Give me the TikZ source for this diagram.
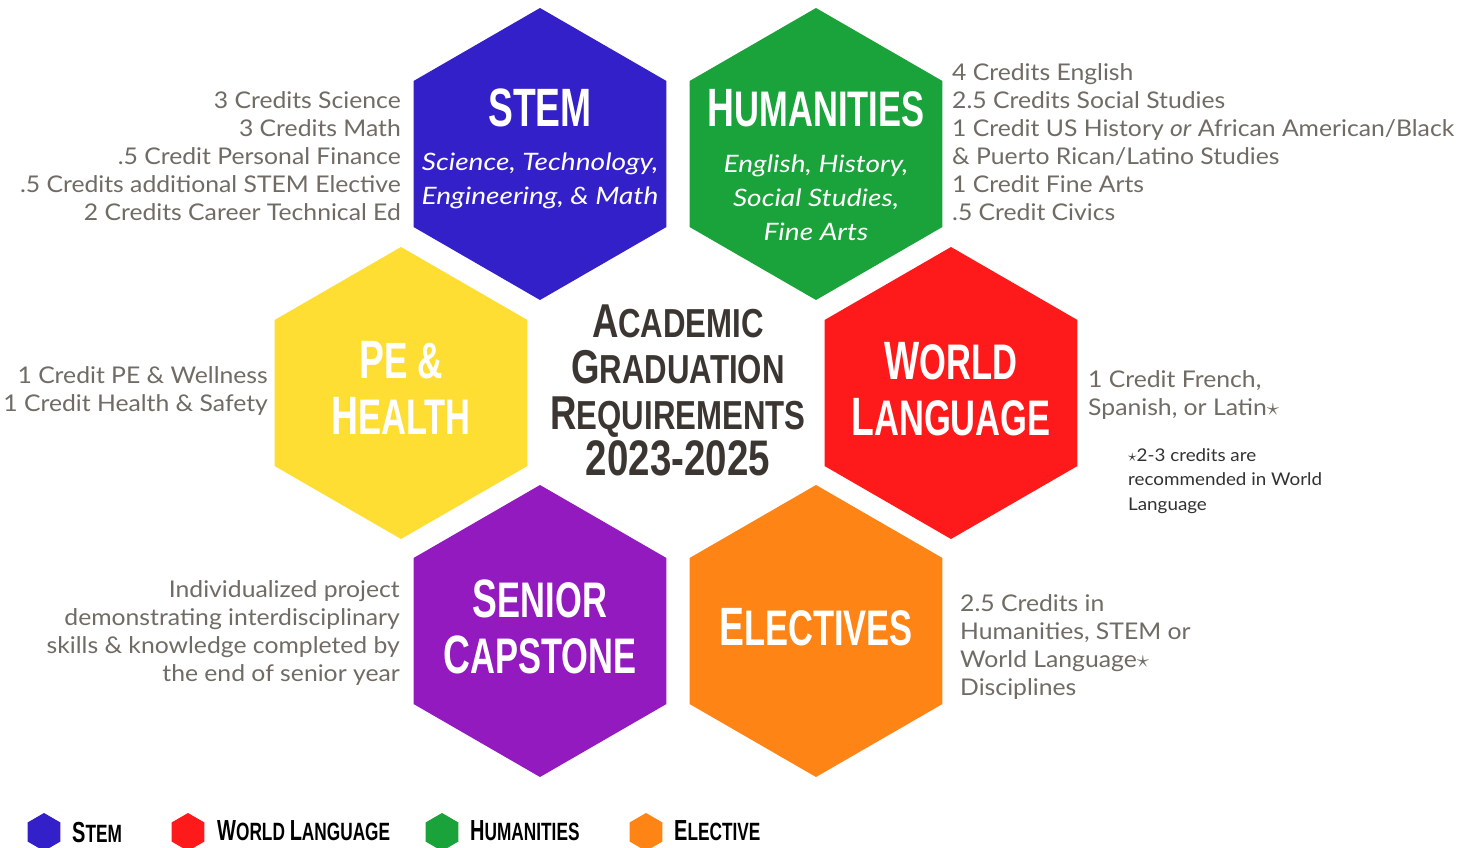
\documentclass[tikz,border=0pt]{standalone}
\usepackage{fontspec}
\setmainfont{Lato}[FakeStretch=1.075]
\newfontfamily\subfont[FakeStretch=1.17]{Lato}
\newfontfamily\hfont[FakeStretch=0.69]{Liberation Sans}
\newfontfamily\cfont[FakeStretch=0.77]{Liberation Sans}
\definecolor{cstem}{RGB}{51,32,200}
\definecolor{chum}{RGB}{25,163,58}
\definecolor{cpe}{RGB}{254,222,50}
\definecolor{cwl}{RGB}{254,26,26}
\definecolor{ccap}{RGB}{146,26,190}
\definecolor{cele}{RGB}{254,132,22}
\definecolor{cgray}{RGB}{112,107,100}
\definecolor{cdark}{RGB}{59,54,49}
\definecolor{cnote}{RGB}{50,50,50}
% small-caps imitation: first letter big, rest smaller
\newcommand\hsc[4]{{\fontsize{#1pt}{#1pt}\selectfont #3}{\fontsize{#2pt}{#2pt}\selectfont #4}}
\newcommand\hexfill[3]{\fill[#1] (#2) +(30:#3) -- +(90:#3) -- +(150:#3) -- +(210:#3) -- +(270:#3) -- +(330:#3) -- cycle;}
\begin{document}
\begin{tikzpicture}[x=1pt,y=-1pt,
  gtext/.style={font={\fontsize{23pt}{28pt}\selectfont}, text=cgray, inner sep=0pt},
  htext/.style={font={\hfont\bfseries\fontsize{50pt}{56pt}\selectfont}, text=white, inner sep=0pt, align=center},
  sub/.style={font={\subfont\fontsize{24pt}{34pt}\selectfont\itshape}, text=white, inner sep=0pt, align=center},
  ttext/.style={font={\cfont\bfseries\fontsize{40pt}{46pt}\selectfont}, text=cdark, inner sep=0pt, align=center},
  ltext/.style={font={\hfont\bfseries}, text=black, inner sep=0pt, anchor=west}]
\useasboundingbox (0,0) rectangle (1466,848);
\fill[white] (0,0) rectangle (1466,848);

% hexagon centres
\coordinate (stem) at (540,154);
\coordinate (hum) at (816,154);
\coordinate (pe) at (401,393);
\coordinate (wl) at (951,393);
\coordinate (cap) at (540,631);
\coordinate (ele) at (816,631);

\hexfill{cstem}{stem}{146}
\hexfill{chum}{hum}{146}
\hexfill{cpe}{pe}{146}
\hexfill{cwl}{wl}{146}
\hexfill{ccap}{cap}{146}
\hexfill{cele}{ele}{146}

% hexagon titles
\node[htext] (stemh) at (540,108) {\hsc{54}{54}{S}{TEM}};
\node[sub] (stems) at (540,181) {Science, Technology,\\Engineering, \& Math};
\node[htext] (humh) at (816,108) {\hsc{54}{50}{H}{UMANITIES}};
\node[sub] (hums) at (816,198) {English, History,\\Social Studies,\\Fine Arts};
\node[htext] (peh) at (401,388) {\hsc{54}{51}{P}{E \&}\\\hsc{54}{50}{H}{EALTH}};
\node[htext] (wlh) at (951,389) {\hsc{54}{50}{W}{ORLD}\\\hsc{54}{50}{L}{ANGUAGE}};
\node[htext] (caph) at (540,627) {\hsc{54}{50}{S}{ENIOR}\\\hsc{54}{50}{C}{APSTONE}};
\node[htext] (eleh) at (816,627) {\hsc{54}{50}{E}{LECTIVES}};

% centre title
\node[ttext] (title) at (678,390) {\hsc{47.5}{40.5}{A}{CADEMIC}\\\hsc{47.5}{40.5}{G}{RADUATION}\\\hsc{47.5}{40.5}{R}{EQUIREMENTS}\\\hsc{50}{50}{2}{023-2025}};

% side texts
\node[gtext, anchor=east, align=right] (stemt) at (401,156) {3 Credits Science\\3 Credits Math\\.5 Credit Personal Finance\\.5 Credits additional STEM Elective\\2 Credits Career Technical Ed};
\node[gtext, anchor=west, align=left] (humt) at (952,142) {4 Credits English\\2.5 Credits Social Studies\\1 Credit US History \textit{or} African American/Black\\\& Puerto Rican/Latino Studies\\1 Credit Fine Arts\\.5 Credit Civics};
\node[gtext, anchor=east, align=right] (pet) at (268,391) {1 Credit PE \& Wellness\\1 Credit Health \& Safety};
\node[gtext, anchor=west, align=left] (wlt) at (1088,395) {1 Credit French,\\Spanish, or Latin$\star$};
\node[font={\fontsize{17.5pt}{24.5pt}\selectfont}, text=cnote, inner sep=0pt, anchor=west, align=left] (wln) at (1128,481) {$\star$2-3 credits are\\recommended in World\\Language};
\node[gtext, anchor=east, align=right] (capt) at (400,633) {Individualized project\\demonstrating interdisciplinary\\skills \& knowledge completed by\\the end of senior year};
\node[gtext, anchor=west, align=left] (elet) at (960,647) {2.5 Credits in\\Humanities, STEM or\\World Language$\star$\\Disciplines};

% legend
\coordinate (l1) at (44,832);
\coordinate (l2) at (188,832);
\coordinate (l3) at (442,832);
\coordinate (l4) at (646,832);
\hexfill{cstem}{l1}{19}
\hexfill{cwl}{l2}{19}
\hexfill{chum}{l3}{19}
\hexfill{cele}{l4}{19}
\node[ltext] (lt1) at (72,833) {\hsc{29}{25}{S}{TEM}};
\node[ltext] (lt2) at (217,831) {\hsc{29}{25}{W}{ORLD }\hsc{29}{25}{L}{ANGUAGE}};
\node[ltext] (lt3) at (470,831) {\hsc{29}{25}{H}{UMANITIES}};
\node[ltext] (lt4) at (674,831) {\hsc{29}{25}{E}{LECTIVE}};
\end{tikzpicture}
\end{document}
